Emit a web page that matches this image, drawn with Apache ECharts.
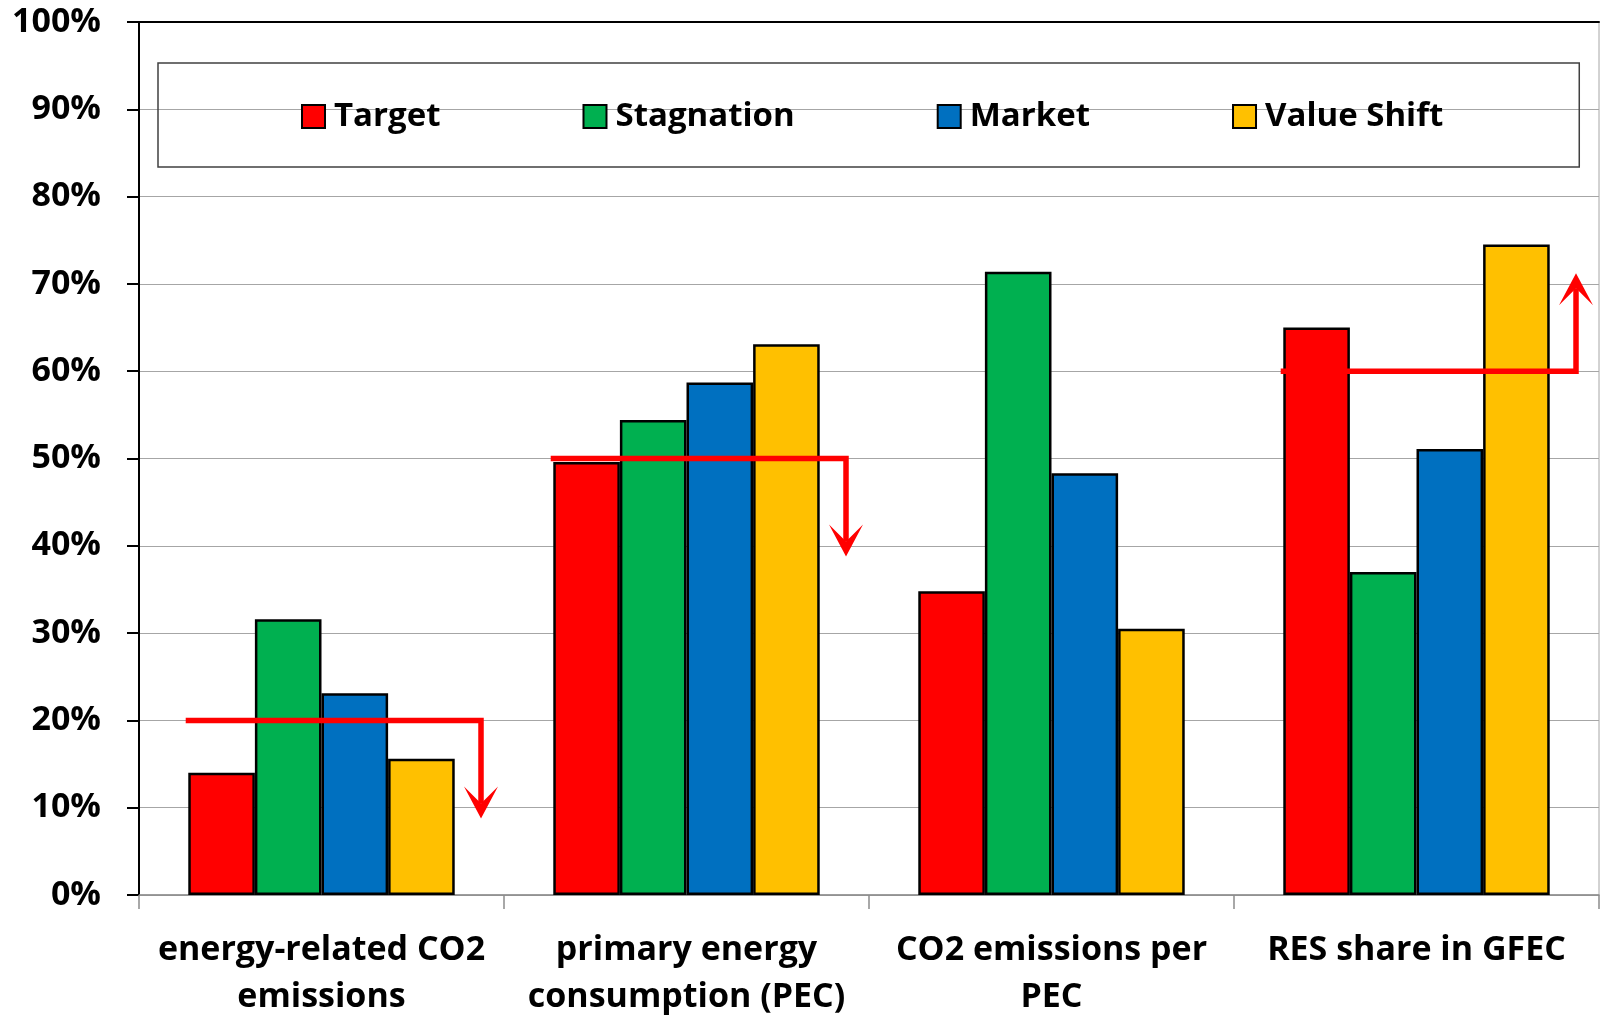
<!DOCTYPE html>
<html>
<head>
<meta charset="utf-8">
<title>Scenario indicators</title>
<script src="https://cdn.jsdelivr.net/npm/echarts@6/dist/echarts.min.js"></script>
<style>
  html, body { margin: 0; padding: 0; background: #ffffff; }
  #chart { width: 1600px; height: 1016px; }
</style>
</head>
<body>
<div id="chart"></div>
<script>
// Indicator categories (x axis)
var categories = [
  'energy-related CO2\nemissions',
  'primary energy\nconsumption (PEC)',
  'CO2 emissions per\nPEC',
  'RES share in GFEC'
];

// Scenario values, percent
var targetValues      = [14.0, 49.6, 34.8, 65.0];
var stagnationValues  = [31.6, 54.4, 71.4, 37.0];
var marketValues      = [23.1, 58.7, 48.3, 51.1];
var valueShiftValues  = [15.6, 63.1, 30.5, 74.5];

// Policy goals per indicator (percent) and required direction (+1 up, -1 down)
var goalValues     = [20, 50, null, 60];
var goalDirections = [-1, -1, 0, 1];

// Y axis ticks
var yTickValues = [0, 10, 20, 30, 40, 50, 60, 70, 80, 90, 100];

var seriesNames  = ['Target', 'Stagnation', 'Market', 'Value Shift'];
var seriesColors = ['#FF0000', '#00B050', '#0070C0', '#FFC000'];
var seriesData   = [targetValues, stagnationValues, marketValues, valueShiftValues];

var FONT = '"Open Sans", "DejaVu Sans", sans-serif';

var goalData = [];
goalValues.forEach(function (v, i) {
  if (v !== null) goalData.push([i, v, goalDirections[i]]);
});

var barSeries = seriesNames.map(function (name, i) {
  return {
    name: name,
    type: 'bar',
    data: seriesData[i],
    barGap: '0%',
    barCategoryGap: '27%',
    itemStyle: { color: seriesColors[i], borderColor: '#000000', borderWidth: 2.5 },
    emphasis: { disabled: true },
    z: 2
  };
});

// Goal marker: horizontal line at the goal level, then an arrow pointing the required way
function renderGoal(params, api) {
  var idx = api.value(0);
  var val = api.value(1);
  var dir = api.value(2);
  var p = api.coord([idx, val]);
  var band = api.size([1, 0])[0];
  var x0 = p[0] - 0.372 * band;
  var x1 = p[0] + 0.437 * band;
  var y = p[1];
  var len = 98;
  var tipY = y - dir * len;
  var notchY = tipY + dir * 15;
  var wingY = tipY + dir * 32;
  var red = '#FF0000';
  return {
    type: 'group',
    children: [
      {
        type: 'polyline',
        shape: { points: [[x0, y], [x1, y], [x1, notchY]] },
        style: { stroke: red, lineWidth: 5.5, fill: null, lineJoin: 'miter' }
      },
      {
        type: 'polygon',
        shape: { points: [[x1, tipY], [x1 - 17, wingY], [x1, notchY], [x1 + 17, wingY]] },
        style: { fill: red, stroke: null }
      }
    ]
  };
}

var chart = echarts.init(document.getElementById('chart'), null, { renderer: 'canvas' });

chart.setOption({
  animation: false,
  backgroundColor: '#ffffff',
  grid: {
    left: 139, right: 1, top: 22, bottom: 121,
    containLabel: false,
    outerBoundsMode: 'none',
    show: true, borderColor: '#a6a6a6', borderWidth: 1, backgroundColor: 'transparent'
  },
  legend: {
    data: seriesNames,
    left: 158, top: 63,
    padding: [37, 136, 34, 143],
    itemGap: 142,
    itemWidth: 23, itemHeight: 23,
    icon: 'rect',
    borderColor: '#404040', borderWidth: 1.5,
    textStyle: { fontFamily: FONT, fontWeight: 'bold', fontSize: 33, color: '#000000', lineHeight: 28, padding: [0, 0, 0, 4] },
    selectedMode: false
  },
  xAxis: [
    {
      type: 'category',
      data: categories,
      position: 'bottom',
      axisLine: { show: true, lineStyle: { color: '#8c8c8c', width: 1.5 } },
      axisTick: { show: true, length: 14, lineStyle: { color: '#8c8c8c', width: 1.5 } },
      axisLabel: {
        interval: 0, margin: 32, color: '#000000',
        fontFamily: FONT, fontWeight: 'bold', fontSize: 34, lineHeight: 47
      },
      splitLine: { show: false }
    },
    {
      type: 'category',
      data: categories,
      position: 'top',
      axisLine: { show: true, lineStyle: { color: '#000000', width: 2 } },
      axisTick: { show: false },
      axisLabel: { show: false },
      splitLine: { show: false }
    }
  ],
  yAxis: {
    type: 'value',
    min: yTickValues[0],
    max: yTickValues[yTickValues.length - 1],
    interval: 10,
    axisLine: { show: true, lineStyle: { color: '#000000', width: 2 } },
    axisTick: { show: true, length: 12, lineStyle: { color: '#000000', width: 2 } },
    axisLabel: {
      margin: 38, color: '#000000',
      fontFamily: FONT, fontWeight: 'bold', fontSize: 34,
      formatter: '{value}%'
    },
    splitLine: { show: true, lineStyle: { color: '#a6a6a6', width: 1 } }
  },
  series: barSeries.concat([
    {
      name: 'Goal',
      type: 'custom',
      renderItem: renderGoal,
      data: goalData,
      encode: { x: 0, y: 1 },
      z: 5,
      silent: true
    }
  ])
});
</script>
</body>
</html>
